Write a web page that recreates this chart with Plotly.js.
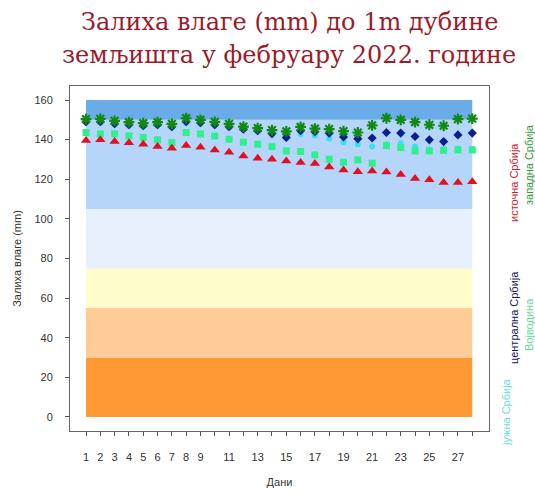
<!DOCTYPE html>
<html>
<head>
<meta charset="utf-8">
<script src="https://cdn.plot.ly/plotly-3.0.1.min.js"></script>
<style>html,body{margin:0;padding:0;background:#fff;}#chart{width:535px;height:494px;}</style>
</head>
<body>
<div id="chart"></div>
<script>
var days = [1,2,3,4,5,6,7,8,9,10,11,12,13,14,15,16,17,18,19,20,21,22,23,24,25,26,27,28];
var tickLabels = ['1','2','3','4','5','6','7','8','9','','11','','13','','15','','17','','19','','21','','23','','25','','27',''];

var istocna = [139.5,140.0,139.0,138.4,137.7,136.5,135.6,137.0,136.2,134.8,133.6,131.8,130.6,130.1,129.2,128.5,128.0,126.2,124.7,123.8,124.2,123.7,122.4,120.4,119.7,118.3,118.3,118.7];
var zapadna = [150.4,150.5,149.5,148.8,148.3,148.8,148.0,150.8,150.0,149.0,148.0,146.6,145.8,144.8,144.2,146.4,145.6,145.3,144.3,143.6,147.2,150.8,150.0,148.8,147.5,147.0,150.3,150.6];
var centralna = [149.0,149.0,148.0,147.5,147.0,147.5,146.5,149.0,148.5,147.5,146.5,145.3,144.5,143.0,141.1,144.5,144.0,143.2,141.3,140.4,140.8,143.6,143.3,141.6,139.9,139.0,142.4,143.3];
var juzna = [148.5,148.5,147.5,147.0,146.5,147.0,146.0,148.5,148.0,147.0,146.0,144.8,144.0,142.5,140.6,142.9,142.1,140.6,138.7,137.7,136.5,137.5,138.2,136.5,135.0,135.2,135.5,135.3];
var vojvodina = [143.6,142.9,142.9,141.9,141.1,139.9,138.5,143.6,142.9,141.8,140.2,138.7,137.7,136.5,134.3,134.0,132.3,130.1,128.6,129.8,128.1,137.0,136.0,134.3,134.3,134.6,134.8,134.8];

var bandLimits = [0,30,55,75,105,150,160];
var bandColors = ['#FF9933','#FFCC99','#FFFDCC','#E6F1FD','#B5D6FA','#6AACE8'];

var shapes = [];
for (var i = 0; i < bandColors.length; i++) {
  shapes.push({type:'rect', xref:'x', yref:'y', x0:days[0], x1:days[days.length-1],
    y0:bandLimits[i], y1:bandLimits[i+1], fillcolor:bandColors[i], line:{width:0}, layer:'below'});
}

function sc(name, y, symbol, size, color, lineW) {
  return {x:days, y:y, name:name, type:'scatter', mode:'markers', cliponaxis:false,
    marker:{symbol:symbol, size:size, color:color, line:{color:color, width:lineW||0}}};
}

var data = [
  sc('јужна Србија', juzna, 'circle', 6, '#33E3F0'),
  sc('Војводина', vojvodina, 'square', 7, '#2EF08C'),
  sc('централна Србија', centralna, 'diamond', 7, '#0A1E8C'),
  sc('источна Србија', istocna, 'triangle-up', 9, '#E0101E'),
  sc('западна Србија', zapadna, 'asterisk-open', 9, '#128A12', 2.2)
];

var sansFam = 'Liberation Sans, Arial, sans-serif';
var W = 535, H = 494, L = 70, R = 46, T = 86, B = 63;
function px(xp){ return (xp - L) / (W - L - R); }
function py(yp){ return 1 - (yp - T) / (H - T - B); }
function leg(text, x, y, color) {
  return {text:text, xref:'paper', yref:'paper', x:px(x), y:py(y), showarrow:false, textangle:-90,
    font:{family:sansFam, size:11, color:color}, xanchor:'center', yanchor:'middle'};
}
function titleLine(text, y) {
  return {text:text, xref:'paper', yref:'paper', x:px(289), y:py(y), showarrow:false,
    font:{family:'DejaVu Serif, serif', size:24, color:'#9A1C2C'}, xanchor:'center', yanchor:'middle'};
}

var layout = {
  width: W, height: H,
  margin: {l:L, r:R, t:T, b:B},
  paper_bgcolor:'#ffffff', plot_bgcolor:'#ffffff',
  showlegend:false,
  xaxis:{range:[-0.12,29.17], tickvals:days, ticktext:tickLabels, ticks:'outside', ticklen:4,
    tickcolor:'#555', showgrid:false, zeroline:false, showline:true, linecolor:'#666', linewidth:1, mirror:true,
    tickfont:{family:sansFam, size:11, color:'#333'}, ticklabelstandoff:12,
    title:{text:'Дани', font:{family:sansFam, size:11, color:'#333'}, standoff:16}},
  yaxis:{range:[-7.07,167.07], tickvals:[0,20,40,60,80,100,120,140,160], ticks:'outside', ticklen:4,
    tickcolor:'#555', showgrid:false, zeroline:false, showline:true, linecolor:'#666', linewidth:1, mirror:true,
    tickfont:{family:sansFam, size:11, color:'#333'}, ticklabelstandoff:10,
    title:{text:'Залиха влаге (mm)', font:{family:sansFam, size:11, color:'#333'}, standoff:10}},
  shapes: shapes,
  annotations: [
    titleLine('Залиха влаге (mm) до 1m дубине', 22),
    titleLine('земљишта у фебруару 2022. године', 55),
    leg('источна Србија', 514, 183, '#D02030'),
    leg('западна Србија', 529, 165, '#2E9A3A'),
    leg('централна Србија', 514, 318, '#141466'),
    leg('Војводина', 529, 325, '#5EDC9A'),
    leg('јужна Србија', 506, 412, '#6ADCE0')
  ]
};

Plotly.newPlot('chart', data, layout, {displayModeBar:false, staticPlot:true});
</script>
</body>
</html>
